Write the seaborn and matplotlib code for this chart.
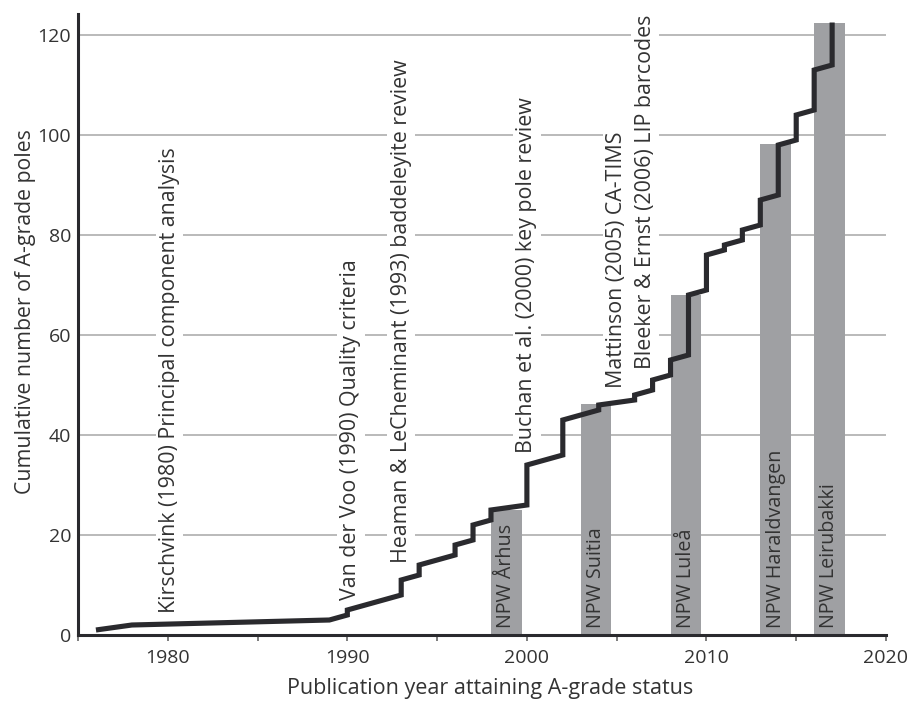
import matplotlib
matplotlib.use("Agg")
import matplotlib.pyplot as plt
import seaborn as sns
import numpy as np
import pandas as pd
from matplotlib.ticker import FixedLocator, NullFormatter

# ---- data ----
line_years = [1976, 1978, 1989, 1990, 1990, 1993, 1993, 1994, 1994, 1996, 1996,
              1997, 1997, 1998, 1998, 2000, 2000, 2002, 2002, 2004, 2004, 2006, 2006,
              2007, 2007, 2008, 2008, 2009, 2009, 2010, 2010, 2011, 2011, 2012, 2012,
              2013, 2013, 2014, 2014, 2015, 2015, 2016, 2016, 2017, 2017]
line_counts = [1, 2, 3, 4, 5, 8, 11, 12, 14, 16, 18,
               19, 22, 23, 25, 26, 34, 36, 43, 45, 46, 47, 48,
               49, 51, 52, 55, 56, 68, 69, 76, 77, 78, 79, 81,
               82, 87, 88, 98, 99, 104, 105, 113, 114, 122.5]

npw_labels = ["NPW Århus", "NPW Suitia", "NPW Luleå", "NPW Haraldvangen", "NPW Leirubakki"]
npw_start = [1998, 2003, 2008, 2013, 2016]
npw_height = [25, 46.2, 68, 98.2, 122.5]

ann_texts = ["Kirschvink (1980) Principal component analysis",
             "Van der Voo (1990) Quality criteria",
             "Heaman & LeCheminant (1993) baddeleyite review",
             "Buchan et al. (2000) key pole review",
             "Mattinson (2005) CA-TIMS",
             "Bleeker & Ernst (2006) LIP barcodes"]
ann_x = [1980.1, 1990.2, 1993.0, 2000.0, 2005.0, 2006.6]
ann_y = [4.4, 7.1, 14.4, 36.4, 49.4, 53.2]

x_major = [1980, 1990, 2000, 2010, 2020]
x_minor = [1975, 1985, 1995, 2005, 2015]
y_ticks = [0, 20, 40, 60, 80, 100, 120]

# ---- style ----
sns.set_style("white")
plt.rcParams['font.family'] = ['Open Sans', 'DejaVu Sans']
TXT = "#333333"
DARK = "#2a2a2e"
BAR = "#9fa0a3"
GRID = "#b4b4b4"

fig = plt.figure(figsize=(9.07, 7.01), dpi=100)
ax = fig.add_axes([78 / 907, 1 - 635 / 701, (886 - 78) / 907, (635 - 14) / 701])

# bars
bar_w = 1.7
centers = [s + bar_w / 2 for s in npw_start]
bars_df = pd.DataFrame({"x": centers, "h": npw_height})
rel_w = bar_w / np.min(np.diff(sorted(centers)))
sns.barplot(data=bars_df, x="x", y="h", native_scale=True, width=rel_w,
            color=BAR, saturation=1, errorbar=None, linewidth=0, ax=ax, zorder=2)

# staircase line
line_df = pd.DataFrame({"year": line_years, "count": line_counts})
sns.lineplot(data=line_df, x="year", y="count", sort=False, estimator=None,
             color=DARK, linewidth=3.7, ax=ax, zorder=4,
             solid_joinstyle="miter", solid_capstyle="butt")

# annotations
for t, x, y in zip(ann_texts, ann_x, ann_y):
    ax.text(x, y, t, rotation=90, ha="center", va="bottom", fontsize=15.4,
            color=TXT, zorder=3,
            bbox=dict(facecolor="white", edgecolor="none", pad=2.5))
for t, c in zip(npw_labels, centers):
    ax.text(c, 1.4, t, rotation=90, ha="center", va="bottom", fontsize=14.2,
            color=TXT, zorder=3)

ax.set_xlim(1975, 2020)
ax.set_ylim(0, 124.2)

ax.xaxis.set_major_locator(FixedLocator(x_major))
ax.xaxis.set_minor_locator(FixedLocator(x_minor))
ax.xaxis.set_minor_formatter(NullFormatter())
ax.set_xticklabels([str(v) for v in x_major])
ax.yaxis.set_major_locator(FixedLocator(y_ticks))
ax.set_yticklabels([str(v) for v in y_ticks])

ax.tick_params(axis="x", which="both", direction="out", length=4, width=1.2,
               color="#666666", labelsize=14, labelcolor=TXT, pad=6, bottom=True)
ax.tick_params(axis="y", which="both", length=0, labelsize=14, labelcolor=TXT, pad=5)

ax.yaxis.grid(True, color=GRID, linewidth=1.3)
ax.xaxis.grid(False)
ax.set_axisbelow(True)

for s in ["top", "right"]:
    ax.spines[s].set_visible(False)
for s in ["left", "bottom"]:
    ax.spines[s].set_color(DARK)
    ax.spines[s].set_linewidth(2.2)
    ax.spines[s].set_zorder(5)

ax.set_xlabel("Publication year attaining A-grade status", fontsize=15.5, color=TXT)
ax.set_ylabel("Cumulative number of A-grade poles", fontsize=15.3, color=TXT)
ax.xaxis.set_label_coords((490 - 78) / 808, (635 - 678) / 621)
ax.yaxis.set_label_coords((36 - 78) / 808, (635 - 312) / 621)

fig.savefig("out.png", dpi=100)
